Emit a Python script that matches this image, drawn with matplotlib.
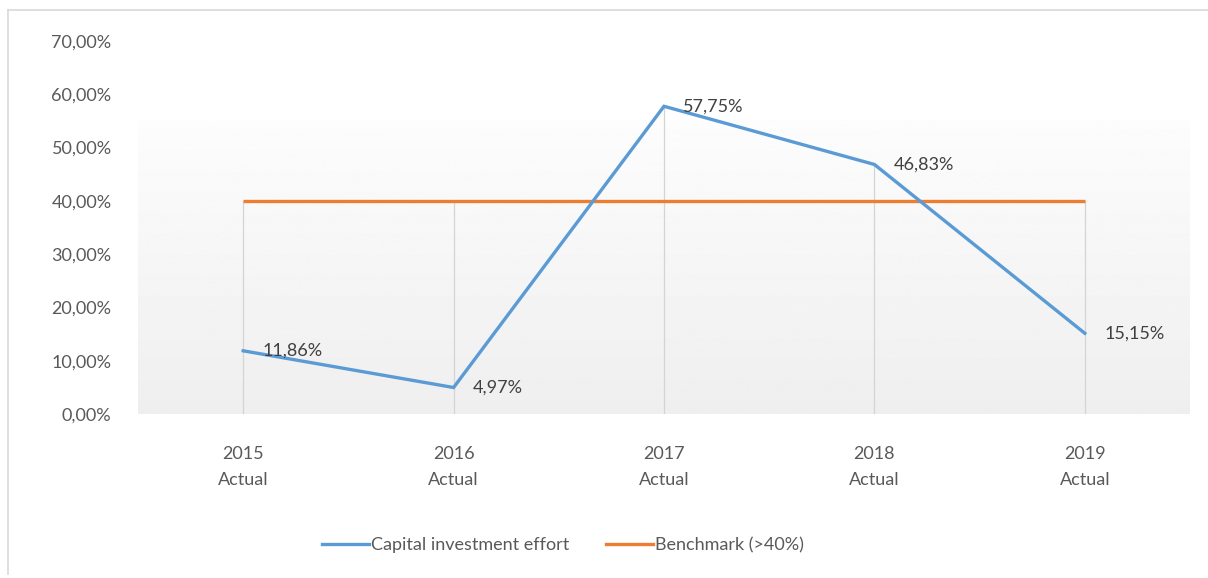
import numpy as np
import matplotlib

matplotlib.use("Agg")
import matplotlib.pyplot as plt
from matplotlib.lines import Line2D
from matplotlib.ticker import FuncFormatter

years = ["2015", "2016", "2017", "2018", "2019"]
tick_labels = [f"{y}\nActual" for y in years]
capex_effort = [0.1186, 0.0497, 0.5775, 0.4683, 0.1515]
benchmark = [0.40, 0.40, 0.40, 0.40, 0.40]
value_labels = ["11,86%", "4,97%", "57,75%", "46,83%", "15,15%"]

BLUE = "#5b9bd5"
ORANGE = "#ed7d31"
TEXT = "#595959"
FS = 13

plt.rcParams["font.family"] = ["Lato", "DejaVu Sans"]

fig = plt.figure(figsize=(12.08, 5.78), dpi=100)
ax = fig.add_axes([138 / 1208, 164 / 578, (1190 - 138) / 1208, (537 - 164) / 578])

x = np.arange(len(years))
ax.set_xlim(-0.5, len(years) - 0.5)
ax.set_ylim(0, 0.70)

# soft gray gradient behind the lower part of the plot area
grad = np.linspace(0.99, 0.935, 256).reshape(-1, 1)
ax.imshow(grad, extent=(-0.5, len(years) - 0.5, 0, 0.55), aspect="auto",
          cmap="gray", vmin=0, vmax=1, zorder=0)

# drop lines from the higher series down to the axis
tops = np.maximum(capex_effort, benchmark)
ax.vlines(x, 0, tops, color="#d4d4d4", lw=0.9, zorder=1)

ax.plot(x, benchmark, color=ORANGE, lw=2.4, solid_capstyle="butt", zorder=2)
ax.plot(x, capex_effort, color=BLUE, lw=2.4, solid_joinstyle="miter", zorder=3)

for xi, yi, lab in zip(x, capex_effort, value_labels):
    ax.annotate(lab, (xi, yi), xytext=(14, 0), textcoords="offset points",
                ha="left", va="center", fontsize=FS, color="#404040", zorder=4)

ax.set_xticks(x)
ax.set_xticklabels(tick_labels, linespacing=1.8)
ax.set_yticks(np.arange(0, 0.71, 0.10))
ax.yaxis.set_major_formatter(FuncFormatter(lambda v, _: f"{v * 100:.2f}%".replace(".", ",")))
ax.tick_params(axis="y", length=0, pad=19, labelsize=FS, labelcolor=TEXT)
ax.tick_params(axis="x", length=0, pad=23, labelsize=FS, labelcolor=TEXT)
for s in ax.spines.values():
    s.set_visible(False)

handles = [
    Line2D([], [], color=BLUE, lw=2.4),
    Line2D([], [], color=ORANGE, lw=2.4),
]
fig.legend(handles, ["Capital investment effort", "Benchmark (>40%)"],
           loc="center", bbox_to_anchor=(0.466, 0.057), ncol=2, frameon=False,
           fontsize=FS, labelcolor=TEXT, handlelength=2.6, handletextpad=0.15,
           columnspacing=2.0)

# chart frame
fig.add_artist(Line2D([8 / 1208, 1.0], [1 - 10 / 578, 1 - 10 / 578],
                      transform=fig.transFigure, color="#d9d9d9", lw=1.2))
fig.add_artist(Line2D([8 / 1208, 8 / 1208], [4 / 578, 1 - 10 / 578],
                      transform=fig.transFigure, color="#d9d9d9", lw=1.2))

fig.savefig("out.png", dpi=100, facecolor="white")
